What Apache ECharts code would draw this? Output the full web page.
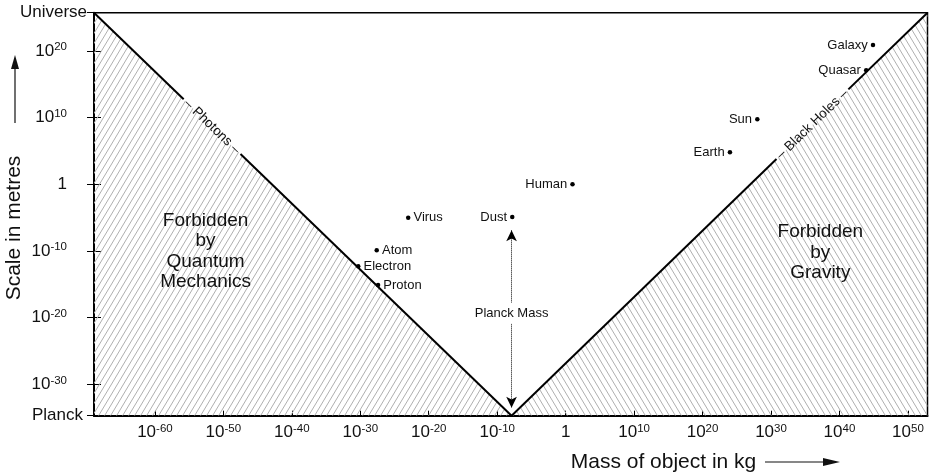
<!DOCTYPE html>
<html>
<head>
<meta charset="utf-8">
<script src="https://cdn.jsdelivr.net/npm/echarts@6.0.0/dist/echarts.min.js"></script>
<style>
html, body { margin: 0; padding: 0; background: #fff; }
#chart { width: 929px; height: 474px; }
</style>
</head>
<body>
<div id="chart"></div>
<script>
const FONT = '"Liberation Sans", Arial, sans-serif';

// all values are log10 (kg for mass, metres for size)
const xTicks = [-60, -50, -40, -30, -20, -10, 0, 10, 20, 30, 40, 50];
const yTicks = [-30, -20, -10, 0, 10, 20];
const planckLength = -34.7;
const universeSize = 25.75;
const planckMass = -7.9;
const massMin = -68.9;
const massMax = 52.86;

const objectNames = ['Electron', 'Proton', 'Atom', 'Virus', 'Dust', 'Human', 'Earth', 'Sun', 'Quasar', 'Galaxy'];
const objectMass = [-30.3, -27.4, -27.6, -23.0, -7.8, 1.0, 24.0, 28.0, 43.9, 44.9];
const objectSize = [-12.3, -15.1, -9.9, -5.0, -4.9, 0, 4.8, 9.75, 17.1, 20.9];
const labelRight = new Set(['Electron', 'Proton', 'Atom', 'Virus']);

// where the boundary lines are broken for their labels (mass range)
const photonGap = [-55.8, -47.5];
const blackHoleGap = [30.8, 41.3];
const planckArrow = [-6.9, -33.5];

const topLeft = [massMin, universeSize];
const vertex = [planckMass, planckLength];
const topRight = [massMax, universeSize];

function along(p, q, x) {
	return [x, p[1] + (q[1] - p[1]) * (x - p[0]) / (q[0] - p[0])];
}

function hatch(forward) {
	const w = 6, h = 10;
	const c = document.createElement('canvas');
	c.width = w;
	c.height = h;
	const ctx = c.getContext('2d');
	ctx.strokeStyle = '#b0b0b0';
	ctx.lineWidth = 1;
	for (let k = -1; k <= 2; k++) {
		ctx.beginPath();
		if (forward) {
			ctx.moveTo(k * w, 0);
			ctx.lineTo((k - 1) * w, h);
		} else {
			ctx.moveTo(k * w, 0);
			ctx.lineTo((k + 1) * w, h);
		}
		ctx.stroke();
	}
	return c;
}

const rich = {
	b: { fontSize: 17, lineHeight: 20, fontFamily: FONT, color: '#111' },
	s: { fontSize: 11.5, lineHeight: 16, verticalAlign: 'top', fontFamily: FONT, color: '#111' },
	n: { fontSize: 17, lineHeight: 20, fontFamily: FONT, color: '#111' },
	pad: { width: 20 },
	w: { fontSize: 17, lineHeight: 20, fontFamily: FONT, color: '#111' },
	wp: { fontSize: 17, lineHeight: 20, fontFamily: FONT, color: '#111', padding: [0, 4, 0, 0] }
};

function powLabel(v) {
	if (v === 0) return '{n|1}';
	return '{b|10}{s|' + v + '}';
}

const segments = [
	[topLeft, along(topLeft, vertex, photonGap[0])],
	[along(topLeft, vertex, photonGap[1]), vertex],
	[vertex, along(vertex, topRight, blackHoleGap[0])],
	[along(vertex, topRight, blackHoleGap[1]), topRight]
];

const chart = echarts.init(document.getElementById('chart'));

const option = {
	animation: false,
	textStyle: { fontFamily: FONT },
	grid: {
		left: 94, right: 1.5, top: 12.7, bottom: 58.3,
		show: true, borderColor: '#000', borderWidth: 1.5
	},
	xAxis: {
		type: 'value',
		min: massMin,
		max: massMax,
		axisLine: { onZero: false, lineStyle: { color: '#000', width: 2 } },
		axisTick: { inside: true, length: 5, customValues: xTicks, lineStyle: { color: '#000', width: 1 } },
		axisLabel: { customValues: xTicks, margin: 7, formatter: powLabel, rich: rich },
		splitLine: { show: false }
	},
	yAxis: [{
		type: 'value',
		min: planckLength,
		max: universeSize,
		axisLine: { onZero: false, lineStyle: { color: '#000', width: 2 } },
		axisTick: { length: 7, customValues: [planckLength].concat(yTicks, [universeSize]), lineStyle: { color: '#000', width: 1 } },
		axisLabel: {
			customValues: [planckLength].concat(yTicks, [universeSize]),
			margin: 7,
			rich: rich,
			formatter: function (v) {
				if (v === planckLength) return '{wp|Planck}';
				if (v === universeSize) return '{w|Universe}';
				return powLabel(v) + '{pad|}';
			}
		},
		splitLine: { show: false }
	}, {
		type: 'value',
		min: planckLength,
		max: universeSize,
		position: 'left',
		axisLine: { show: false, onZero: false },
		axisTick: { inside: true, length: 7, customValues: yTicks, lineStyle: { color: '#000', width: 1 } },
		axisLabel: { show: false },
		splitLine: { show: false }
	}],
	series: [{
		type: 'line',
		data: [topLeft, vertex],
		symbol: 'none',
		silent: true,
		z: 1,
		lineStyle: { width: 0 },
		areaStyle: { color: { image: hatch(true), repeat: 'repeat' }, opacity: 1, origin: 'start' },
		markLine: {
			silent: true,
			symbol: ['arrow', 'arrow'],
			symbolSize: [8, 11],
			label: { show: false },
			lineStyle: { type: 'dotted', color: '#000', width: 1 },
			data: [[{ coord: [planckMass, planckArrow[0]] }, { coord: [planckMass, planckArrow[1]] }]]
		}
	}, {
		type: 'line',
		data: [vertex, topRight],
		symbol: 'none',
		silent: true,
		z: 1,
		lineStyle: { width: 0 },
		areaStyle: { color: { image: hatch(false), repeat: 'repeat' }, opacity: 1, origin: 'start' }
	}, {
		type: 'lines',
		coordinateSystem: 'cartesian2d',
		z: 3,
		silent: true,
		lineStyle: { color: '#000', width: 2, opacity: 1 },
		data: segments.map(function (s) { return { coords: s }; })
	}, {
		type: 'scatter',
		symbolSize: 4.5,
		z: 4,
		itemStyle: { color: '#000', opacity: 1 },
		label: { show: true, formatter: '{b}', fontSize: 13, color: '#111', distance: 3 },
		data: objectNames.map(function (n, i) {
			return {
				name: n,
				value: [objectMass[i], objectSize[i]],
				label: { position: labelRight.has(n) ? 'right' : 'left' }
			};
		})
	}, {
		type: 'scatter',
		symbolSize: 1,
		z: 4,
		itemStyle: { color: '#fff', opacity: 1 },
		label: { show: true, position: 'inside', fontSize: 13.5, color: '#111' },
		data: [
			{ value: along(topLeft, vertex, (photonGap[0] + photonGap[1]) / 2), label: { formatter: '– Photons –', rotate: -44 } },
			{ value: along(vertex, topRight, (blackHoleGap[0] + blackHoleGap[1]) / 2), label: { formatter: '– Black Holes –', rotate: 44 } }
		]
	}, {
		type: 'scatter',
		symbolSize: 1,
		z: 4,
		itemStyle: { color: '#fff', opacity: 0 },
		label: { show: true, position: 'inside', fontSize: 19, lineHeight: 20.5, align: 'center', color: '#111', opacity: 1 },
		data: [
			{ value: [-52.6, -10.0], label: { formatter: 'Forbidden\nby\nQuantum\nMechanics' } },
			{ value: [37.2, -10.2], label: { formatter: 'Forbidden\nby\nGravity' } }
		]
	}, {
		type: 'scatter',
		symbolSize: 1,
		z: 10,
		itemStyle: { color: '#fff', opacity: 1 },
		label: {
			show: true, position: 'inside', fontSize: 13, color: '#111',
			backgroundColor: '#fff', padding: [4, 3], formatter: 'Planck Mass'
		},
		data: [[planckMass, -19.35]]
	}],
	graphic: [
		{ type: 'text', x: 14, y: 228, rotation: Math.PI / 2, style: { text: 'Scale in metres', fontSize: 21, fontFamily: FONT, fill: '#111', align: 'center', verticalAlign: 'middle' } },
		{ type: 'line', shape: { x1: 15, y1: 123, x2: 15, y2: 66 }, style: { stroke: '#111', lineWidth: 1.2 } },
		{ type: 'polygon', shape: { points: [[15, 55], [11, 69], [19, 69]] }, style: { fill: '#111' } },
		{ type: 'text', x: 663.5, y: 462, style: { text: 'Mass of object in kg', fontSize: 21, fontFamily: FONT, fill: '#111', align: 'center', verticalAlign: 'middle' } },
		{ type: 'line', shape: { x1: 765, y1: 462, x2: 826, y2: 462 }, style: { stroke: '#111', lineWidth: 1.2 } },
		{ type: 'polygon', shape: { points: [[840, 462], [823, 458], [823, 466]] }, style: { fill: '#111' } }
	]
};

chart.setOption(option);
</script>
</body>
</html>
